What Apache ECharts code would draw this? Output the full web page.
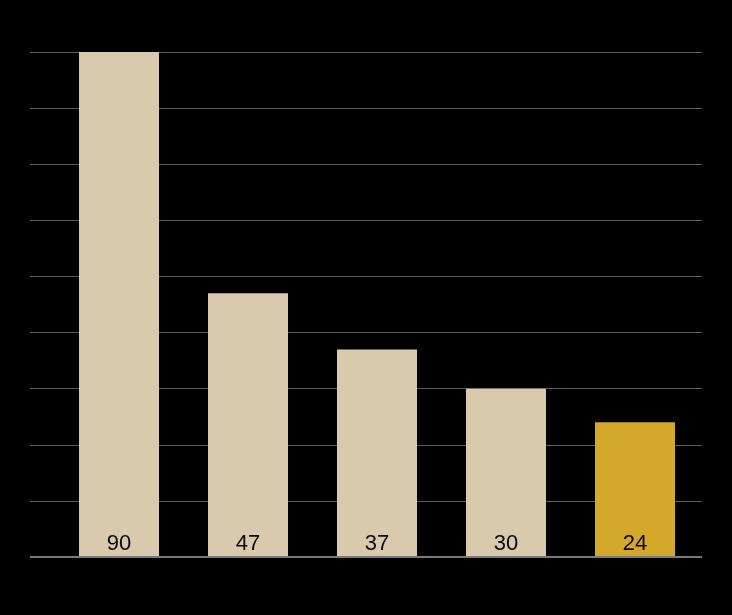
<!DOCTYPE html>
<html><head><meta charset="utf-8">
<script src="https://cdn.jsdelivr.net/npm/echarts@6/dist/echarts.min.js"></script>
<style>html,body{margin:0;padding:0;background:#000;}#c{width:732px;height:615px;}</style>
</head><body><div id="c"></div>
<script>
const categories = ['A', 'B', 'C', 'D', 'E'];
const values = [90, 47, 37, 30, 24];
const highlightIndex = 4;

const chart = echarts.init(document.getElementById('c'), null, {renderer: 'canvas'});
chart.setOption({
  backgroundColor: '#000',
  animation: false,
  grid: [
    {left: 30, right: 30, top: 52, bottom: 58, containLabel: false},
    {left: 54.5, right: 32.5, top: 52, bottom: 58, containLabel: false}
  ],
  xAxis: [
    {gridIndex: 0, type: 'category', data: categories, show: false},
    {gridIndex: 1, type: 'category', data: categories,
     axisLine: {show: false}, axisTick: {show: false}, axisLabel: {show: false}}
  ],
  yAxis: [
    {gridIndex: 0, type: 'value', min: 0, max: 90, interval: 10,
     axisLine: {show: false}, axisTick: {show: false}, axisLabel: {show: false},
     splitLine: {show: true, lineStyle: {color: '#5a5a5a', width: 1}}},
    {gridIndex: 1, type: 'value', min: 0, max: 90, interval: 10,
     axisLine: {show: false}, axisTick: {show: false}, axisLabel: {show: false},
     splitLine: {show: false}}
  ],
  series: [
    {type: 'line', xAxisIndex: 0, yAxisIndex: 0, data: [], silent: true,
     markLine: {silent: true, symbol: 'none', label: {show: false},
       lineStyle: {color: '#7a7a7a', width: 2, type: 'solid'}, data: [{yAxis: 0}]}},
    {type: 'bar', xAxisIndex: 1, yAxisIndex: 1,
     barWidth: 80,
     data: values.map((v, i) => ({value: v, itemStyle: {color: i === highlightIndex ? '#d4a82a' : '#d9c9ad'}})),
     label: {show: true, position: 'insideBottom', distance: 2, color: '#0a0a0a', fontSize: 22,
       fontFamily: 'Liberation Sans, Arial, sans-serif'}}
  ]
});
</script></body></html>
